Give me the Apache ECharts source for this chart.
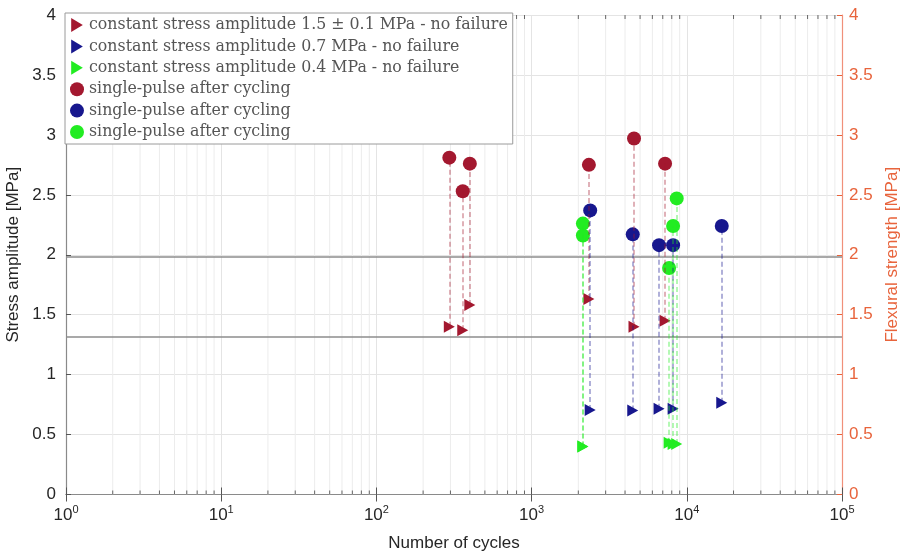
<!DOCTYPE html>
<html>
<head>
<meta charset="utf-8">
<script src="https://cdn.jsdelivr.net/npm/echarts@6/dist/echarts.min.js"></script>
<style>
html, body { margin:0; padding:0; background:#fff; }
#chart { width:900px; height:557px; }
</style>
</head>
<body>
<div id="chart"></div>
<script>
// values
var redCycles   = [295, 360, 400, 2340, 4570, 7245];
var redConst    = [1.40, 1.37, 1.58, 1.63, 1.40, 1.45];
var redPulse    = [2.81, 2.53, 2.76, 2.75, 2.97, 2.76];
var blueCycles  = [2385, 4485, 6625, 8160, 16800];
var blueConst   = [0.705, 0.70, 0.716, 0.716, 0.766];
var bluePulse   = [2.37, 2.17, 2.08, 2.08, 2.24];
var greenCycles = [2140, 2140, 7690, 8160, 8610];
var greenConst  = [0.40, 0.40, 0.432, 0.421, 0.421];
var greenPulse  = [2.26, 2.16, 1.89, 2.24, 2.47];
var refLines    = [1.975, 1.316];
var legendNames = [
    'constant stress amplitude 1.5 \u00b1 0.1 MPa - no failure',
    'constant stress amplitude 0.7 MPa - no failure',
    'constant stress amplitude 0.4 MPa - no failure',
    'single-pulse after cycling',
    'single-pulse after cycling\u200b',
    'single-pulse after cycling\u200b\u200b'
];
// minor decade lines 2..9 x 10^n
var minorTicks = [];
for (var n = 0; n < 5; n++) {
    for (var k = 2; k < 10; k++) minorTicks.push(k * Math.pow(10, n));
}

var red = '#A3182F', blue = '#17178E', green = '#22EC22';
var tri = 'path://M0,0L10,6L0,12Z';
var labelFont = 'Liberation Sans';

function pts(xs, ys) {
    return xs.map(function (x, i) { return [x, ys[i]]; });
}
// dashed stem, drawn upward from the triangle to the circle
function stems(xs, bot, top) {
    return xs.map(function (x, i) {
        return [{ coord: [x, bot[i]] }, { coord: [x, top[i]] }];
    });
}
function stemLine(color, xs, bot, top) {
    return {
        silent: true,
        symbol: ['none', 'none'],
        animation: false,
        label: { show: false },
        lineStyle: { type: [5, 3], color: color, width: 1.5, opacity: 0.45 },
        data: stems(xs, bot, top)
    };
}

var yAxisBase = {
    type: 'value', min: 0, max: 4, interval: 0.5,
    nameLocation: 'middle',
    splitLine: { show: false }
};

var option = {
    animation: false,
    backgroundColor: '#fff',
    grid: { left: 66, right: 58, top: 15, bottom: 62.5, outerBoundsMode: 'none', containLabel: false },
    legend: {
        data: legendNames,
        orient: 'vertical',
        left: 65, top: 13,
        padding: [4, 5, 4, 5],
        itemWidth: 14, itemHeight: 14, itemGap: 5.4,
        backgroundColor: '#fff',
        borderColor: '#9a9a9a', borderWidth: 1,
        textStyle: { fontFamily: 'DejaVu Serif', fontSize: 15.8, color: '#555' }
    },
    xAxis: [{
        type: 'log', logBase: 10, min: 1, max: 100000,
        name: 'Number of cycles', nameLocation: 'middle', nameGap: 40,
        nameTextStyle: { fontSize: 17, fontFamily: labelFont, color: '#262626' },
        axisLine: { lineStyle: { color: '#8a8a8a', width: 1.2 } },
        axisTick: { inside: true, length: 7, lineStyle: { color: '#555' } },
        axisLabel: {
            margin: 10,
            formatter: function (v) {
                return '{b|10}{s|' + Math.round(Math.log10(v)) + '}';
            },
            rich: {
                b: { fontSize: 17, fontFamily: labelFont, color: '#262626', lineHeight: 22 },
                s: { fontSize: 11, fontFamily: labelFont, color: '#262626', verticalAlign: 'top', lineHeight: 12 }
            }
        },
        splitLine: { show: true, lineStyle: { color: '#e4e4e4', width: 1 } }
    }, {
        type: 'log', logBase: 10, min: 1, max: 100000, position: 'top',
        axisLine: { lineStyle: { color: '#8a8a8a', width: 1.2 } },
        axisTick: { inside: true, length: 7, lineStyle: { color: '#555' } },
        axisLabel: { show: false },
        splitLine: { show: false }
    }],
    yAxis: [
        Object.assign({}, yAxisBase, {
            position: 'left',
            name: 'Stress amplitude [MPa]', nameGap: 35,
            nameTextStyle: { fontSize: 17, fontFamily: labelFont, color: '#262626' },
            axisLine: { show: true, lineStyle: { color: '#8a8a8a', width: 1.2 } },
            axisTick: { show: true, inside: true, length: 5, lineStyle: { color: '#555' } },
            axisLabel: { fontSize: 17, fontFamily: labelFont, color: '#262626', margin: 10 },
            splitLine: { show: true, lineStyle: { color: '#e4e4e4', width: 1 } }
        }),
        Object.assign({}, yAxisBase, {
            position: 'right',
            name: 'Flexural strength [MPa]', nameGap: 36,
            nameTextStyle: { fontSize: 17, fontFamily: labelFont, color: '#E8643C' },
            axisLine: { show: true, lineStyle: { color: '#F0907A', width: 1.2 } },
            axisTick: { show: true, inside: true, length: 5, lineStyle: { color: '#E8643C' } },
            axisLabel: { fontSize: 17, fontFamily: labelFont, color: '#E8643C', margin: 7 }
        })
    ],
    series: [
        {
            // minor log grid and ticks
            type: 'custom', silent: true, z: 1,
            data: minorTicks.map(function (v) { return [v, 0]; }),
            encode: { x: 0, y: 1 },
            renderItem: function (params, api) {
                var b = api.coord([api.value(0), 0]);
                var t = api.coord([api.value(0), 4]);
                return {
                    type: 'group',
                    children: [
                        { type: 'line', shape: { x1: b[0], y1: b[1], x2: t[0], y2: t[1] }, style: { stroke: '#ececec', lineWidth: 1 } },
                        { type: 'line', shape: { x1: b[0], y1: b[1], x2: b[0], y2: b[1] - 4 }, style: { stroke: '#666', lineWidth: 1 } },
                        { type: 'line', shape: { x1: t[0], y1: t[1], x2: t[0], y2: t[1] + 4 }, style: { stroke: '#666', lineWidth: 1 } }
                    ]
                };
            }
        },
        {
            name: legendNames[0], type: 'scatter', symbol: tri, symbolSize: [11, 12],
            itemStyle: { color: red, opacity: 1 },
            data: pts(redCycles, redConst),
            markLine: {
                silent: true, symbol: ['none', 'none'], animation: false,
                label: { show: false },
                lineStyle: { type: 'solid', color: '#8c8c8c', width: 1.5 },
                data: refLines.map(function (v) { return { yAxis: v }; })
            }
        },
        {
            name: legendNames[1], type: 'scatter', symbol: tri, symbolSize: [11, 12],
            itemStyle: { color: blue, opacity: 1 },
            data: pts(blueCycles, blueConst)
        },
        {
            name: legendNames[2], type: 'scatter', symbol: tri, symbolSize: [11, 12],
            itemStyle: { color: green, opacity: 1 },
            data: pts(greenCycles, greenConst)
        },
        {
            name: legendNames[3], type: 'scatter', symbol: 'circle', symbolSize: 14,
            itemStyle: { color: red, opacity: 1 },
            data: pts(redCycles, redPulse),
            markLine: stemLine(red, redCycles, redConst, redPulse)
        },
        {
            name: legendNames[4], type: 'scatter', symbol: 'circle', symbolSize: 14,
            itemStyle: { color: blue, opacity: 1 },
            data: pts(blueCycles, bluePulse),
            markLine: stemLine(blue, blueCycles, blueConst, bluePulse)
        },
        {
            name: legendNames[5], type: 'scatter', symbol: 'circle', symbolSize: 14,
            itemStyle: { color: green, opacity: 1 },
            data: pts(greenCycles, greenPulse),
            markLine: stemLine(green, greenCycles, greenConst, greenPulse)
        }
    ]
};

var chart = echarts.init(document.getElementById('chart'));
chart.setOption(option);
</script>
</body>
</html>
